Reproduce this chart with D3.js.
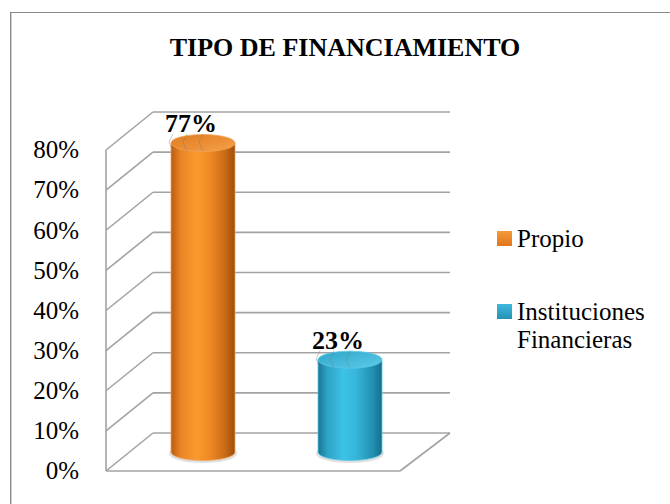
<!DOCTYPE html>
<html>
<head>
<meta charset="utf-8">
<script src="https://cdn.jsdelivr.net/npm/d3@7"></script>
<style>
  html, body { margin: 0; padding: 0; background: #fff; }
  svg { display: block; }
</style>
</head>
<body>
<script>
// ---- data ----
const categories = ["Propio", "Instituciones Financieras"];
const values = [0.77, 0.23];
const valueLabels = ["77%", "23%"];
const yTicks = [0, 0.1, 0.2, 0.3, 0.4, 0.5, 0.6, 0.7, 0.8];
const legendLines = [["Propio"], ["Instituciones", "Financieras"]];
const title = "TIPO DE FINANCIAMIENTO";

// ---- styling / geometry ----
const W = 670, H = 504;
const FONT = "'Liberation Serif', 'Times New Roman', 'DejaVu Serif', serif";
const DX = 47, DY = -38; // depth offset (3D)
const gridColor = "#a3a3a3";
const palettes = [
  { stops: ["#b65c12", "#e98524", "#f99a2e", "#f08a24", "#c86a16", "#9c4e0d"], top: "#e07c1f", topRim: "#f5a04a", edge: "#f2a257", legend: ["#f59a3a", "#e0761c"] },
  { stops: ["#1a7594", "#2ea3c6", "#3cc3e6", "#36b5d9", "#2290b2", "#176e8a"], top: "#2ca6ca", topRim: "#5fcbe8", edge: "#5cc8e6", legend: ["#3fb8dc", "#2592b5"] }
];

const svg = d3.select("body").append("svg").attr("width", W).attr("height", H)
  .attr("font-family", FONT).style("font-family", FONT);
const defs = svg.append("defs");

// outer frame (only top/left visible)
svg.append("rect").attr("x", 10.5).attr("y", 12.5).attr("width", 800).attr("height", 800)
  .attr("fill", "none").attr("stroke", "#8a8a8a").attr("stroke-width", 1);
svg.append("line").attr("x1", 11.5).attr("x2", 11.5).attr("y1", 13).attr("y2", H)
  .attr("stroke", "#d0d0d0").attr("stroke-width", 1);

// title
svg.append("text").attr("x", 345).attr("y", 56).attr("text-anchor", "middle")
  .attr("font-family", FONT)
  .attr("font-size", 26).attr("font-weight", "bold").attr("fill", "#000").text(title);

// scales
const y = d3.scaleLinear().domain([0, 0.8]).range([471, 150]);
const x = d3.scaleBand().domain(categories).range([106, 400]).padding(0);
const yMid = v => y(v) + DY / 2;

const grid = svg.append("g").attr("fill", "none").attr("stroke", gridColor).attr("stroke-width", 1.6);
// back wall gridlines
grid.selectAll(".back").data(yTicks).join("line")
  .attr("x1", 106 + DX).attr("x2", 400 + DX + 3)
  .attr("y1", d => y(d) + DY).attr("y2", d => y(d) + DY);
// left wall diagonals
grid.selectAll(".side").data(yTicks).join("line")
  .attr("x1", 106).attr("x2", 106 + DX)
  .attr("y1", d => y(d)).attr("y2", d => y(d) + DY);
// left wall front edge
grid.append("line").attr("x1", 106).attr("x2", 106).attr("y1", y(0.8)).attr("y2", y(0));
// floor front & right edges
grid.append("line").attr("x1", 106).attr("x2", 400).attr("y1", y(0)).attr("y2", y(0));
grid.append("line").attr("x1", 400).attr("x2", 400 + DX + 3).attr("y1", y(0)).attr("y2", y(0) + DY);

// y axis labels
svg.append("g").selectAll("text").data(yTicks).join("text")
  .attr("font-family", FONT)
  .attr("x", 79).attr("y", d => y(d)).attr("dy", "0.33em")
  .attr("text-anchor", "end").attr("font-size", 25).attr("fill", "#000")
  .text(d => d3.format(".0%")(d));

// cylinders
const rx = 32, ry = 8.5;
const bars = svg.append("g");
categories.forEach((c, i) => {
  const p = palettes[i];
  const gid = "grad" + i;
  const g = defs.append("linearGradient").attr("id", gid).attr("x1", "0").attr("x2", "1").attr("y1", "0").attr("y2", "0");
  const offs = [0, 0.15, 0.4, 0.6, 0.85, 1];
  p.stops.forEach((s, k) => g.append("stop").attr("offset", offs[k]).attr("stop-color", s));
  const tg = defs.append("linearGradient").attr("id", "top" + i).attr("x1", "0").attr("x2", "1").attr("y1", "0").attr("y2", "1");
  tg.append("stop").attr("offset", 0).attr("stop-color", p.top);
  tg.append("stop").attr("offset", 1).attr("stop-color", p.topRim);

  const cx = x(c) + x.bandwidth() / 2 + DX / 2;
  const yT = yMid(values[i]);
  const yB = yMid(0);
  const l = cx - rx, r = cx + rx;
  bars.append("ellipse").attr("cx", cx).attr("cy", yB + 1.5).attr("rx", rx + 2).attr("ry", ry + 1)
    .attr("fill", "#000").attr("opacity", 0.12);
  bars.append("path")
    .attr("d", `M${l},${yT} L${l},${yB} A${rx},${ry} 0 0 0 ${r},${yB} L${r},${yT} Z`)
    .attr("fill", `url(#${gid})`).attr("stroke", p.edge).attr("stroke-width", 0.8);
  bars.append("ellipse").attr("cx", cx).attr("cy", yT).attr("rx", rx).attr("ry", ry)
    .attr("fill", `url(#top${i})`).attr("stroke", p.edge).attr("stroke-width", 0.8);

  // faint reflection strokes under the label (decorative)
  const lx = cx - 12, ly = yT - 11;
  [-18, -4, 12].forEach(ox => {
    bars.append("path")
      .attr("d", `M${lx + ox},${ly + 2} l-4,8 l4,9`)
      .attr("fill", "none").attr("stroke", "#777").attr("stroke-width", 0.8).attr("opacity", 0.5);
  });
  svg.append("text").attr("x", lx).attr("y", ly).attr("text-anchor", "middle")
    .attr("font-family", FONT)
    .attr("font-size", 26).attr("font-weight", "bold").attr("fill", "#000").text(valueLabels[i]);
});

// legend
const legendY = [231, 304];
const legend = svg.append("g");
categories.forEach((c, i) => {
  const lg = defs.append("linearGradient").attr("id", "lg" + i).attr("x1", 0).attr("x2", 0).attr("y1", 0).attr("y2", 1);
  lg.append("stop").attr("offset", 0).attr("stop-color", palettes[i].legend[0]);
  lg.append("stop").attr("offset", 1).attr("stop-color", palettes[i].legend[1]);
  legend.append("rect").attr("x", 497).attr("y", legendY[i]).attr("width", 15).attr("height", 15)
    .attr("fill", `url(#lg${i})`);
  const t = legend.append("text").attr("x", 517).attr("y", legendY[i] + 16)
    .attr("font-family", FONT).attr("font-size", 25).attr("fill", "#000");
  legendLines[i].forEach((line, k) => {
    t.append("tspan").attr("x", 517).attr("dy", k === 0 ? 0 : 28).text(line);
  });
});
</script>
</body>
</html>
